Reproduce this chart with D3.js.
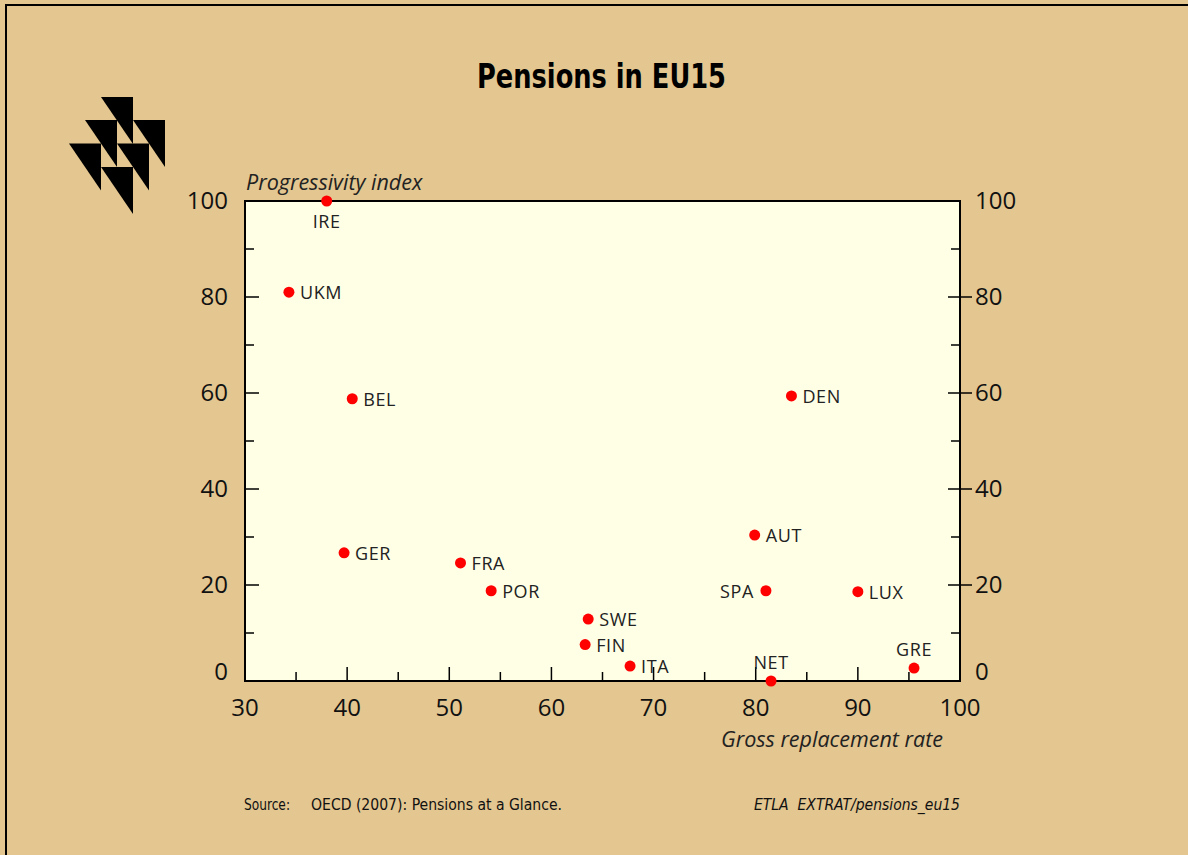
<!DOCTYPE html>
<html>
<head>
<meta charset="utf-8">
<script src="https://cdn.jsdelivr.net/npm/d3@7"></script>
<style>
  body { margin: 0; background: #e3c690; }
  svg { display: block; }
</style>
</head>
<body>
<script>
// data (OECD 2007, Pensions at a Glance)
const countries = ["IRE", "UKM", "BEL", "DEN", "GER", "AUT", "FRA", "POR", "SPA", "LUX", "SWE", "FIN", "ITA", "NET", "GRE"];
const replacementRate = [38.0, 34.3, 40.5, 83.5, 39.7, 79.9, 51.1, 54.1, 81.0, 90.0, 63.6, 63.3, 67.7, 81.5, 95.5];
const progressivity = [100, 81.0, 58.8, 59.4, 26.7, 30.4, 24.6, 18.8, 18.8, 18.6, 12.9, 7.6, 3.1, 0, 2.7];
const xTicks = [30, 40, 50, 60, 70, 80, 90, 100];
const yTicks = [0, 20, 40, 60, 80, 100];

const W = 1188, H = 855;
const margin = {left: 245, right: 960, top: 201, bottom: 681};

const svg = d3.select("body").append("svg")
  .attr("width", W)
  .attr("height", H);

// frame (only top and left edge are visible)
svg.append("rect").attr("x", 0).attr("y", 0).attr("width", W).attr("height", H).attr("fill", "#e3c690");
svg.append("path").attr("d", `M6,${H} V5 H${W}`).attr("fill", "none").attr("stroke", "#000").attr("stroke-width", 2);

// logo
const tri = [[101, 97], [85, 120], [133, 120], [69, 143.5], [117, 143.5], [101, 167]];
svg.append("g").selectAll("path")
  .data(tri)
  .enter()
  .append("path")
  .attr("d", d => `M${d[0]},${d[1]} h32 v47 Z`)
  .attr("fill", "#000");

svg.append("text")
  .attr("x", 477).attr("y", 88)
  .attr("textLength", 249).attr("lengthAdjust", "spacingAndGlyphs")
  .style("font-family", "'Liberation Sans Narrow', 'DejaVu Sans Condensed', sans-serif")
  .style("font-weight", "bold")
  .style("font-size", "33px")
  .text("Pensions in EU15");

const x = d3.scaleLinear().domain([30, 100]).range([margin.left, margin.right]);
const y = d3.scaleLinear().domain([0, 100]).range([margin.bottom, margin.top]);

svg.append("rect")
  .attr("x", x(30)).attr("y", y(100))
  .attr("width", x(100) - x(30)).attr("height", y(0) - y(100))
  .attr("fill", "#ffffe6")
  .attr("stroke", "#000")
  .attr("stroke-width", 2);

const tickFont = "'Open Sans', sans-serif";

// bottom axis: ticks every 5, pointing in
const xAxis = svg.append("g").attr("transform", `translate(0,${y(0)})`);
xAxis.selectAll("line")
  .data(d3.range(35, 100, 5))
  .enter().append("line")
  .attr("x1", d => x(d)).attr("x2", d => x(d))
  .attr("y1", 0).attr("y2", d => d % 10 === 0 ? -14 : -9)
  .attr("stroke", "#000").attr("stroke-width", 1.5);
xAxis.selectAll("text")
  .data(xTicks)
  .enter().append("text")
  .attr("x", d => x(d)).attr("y", 35)
  .attr("text-anchor", "middle")
  .style("font-family", tickFont).style("font-size", "24px").attr("fill", "#111")
  .text(d => d);

// left and right axes
const yMinor = d3.range(10, 100, 20);
const leftAxis = svg.append("g").attr("transform", `translate(${x(30)},0)`);
leftAxis.selectAll("line.major")
  .data(yTicks.slice(1, -1))
  .enter().append("line")
  .attr("x1", 0).attr("x2", 14)
  .attr("y1", d => y(d)).attr("y2", d => y(d))
  .attr("stroke", "#000").attr("stroke-width", 1.5);
leftAxis.selectAll("line.minor")
  .data(yMinor)
  .enter().append("line")
  .attr("x1", 0).attr("x2", 9)
  .attr("y1", d => y(d)).attr("y2", d => y(d))
  .attr("stroke", "#000").attr("stroke-width", 1.5);
leftAxis.selectAll("text")
  .data(yTicks)
  .enter().append("text")
  .attr("x", -17)
  .attr("y", d => y(d) + (d === 0 ? -9 : 0))
  .attr("dy", "0.35em")
  .attr("text-anchor", "end")
  .style("font-family", tickFont).style("font-size", "24px").attr("fill", "#111")
  .text(d => d);

const rightAxis = svg.append("g").attr("transform", `translate(${x(100)},0)`);
rightAxis.selectAll("line.major")
  .data(yTicks.slice(1, -1))
  .enter().append("line")
  .attr("x1", -12).attr("x2", 12)
  .attr("y1", d => y(d)).attr("y2", d => y(d))
  .attr("stroke", "#000").attr("stroke-width", 1.5);
rightAxis.selectAll("line.minor")
  .data(yMinor)
  .enter().append("line")
  .attr("x1", 0).attr("x2", -9)
  .attr("y1", d => y(d)).attr("y2", d => y(d))
  .attr("stroke", "#000").attr("stroke-width", 1.5);
rightAxis.selectAll("text")
  .data(yTicks)
  .enter().append("text")
  .attr("x", 15)
  .attr("y", d => y(d) + (d === 0 ? -9 : 0))
  .attr("dy", "0.35em")
  .attr("text-anchor", "start")
  .style("font-family", tickFont).style("font-size", "24px").attr("fill", "#111")
  .text(d => d);

// axis titles
svg.append("text")
  .attr("x", 246).attr("y", 190)
  .style("font-family", tickFont).style("font-style", "italic").style("font-size", "21.5px").attr("fill", "#222")
  .text("Progressivity index");
svg.append("text")
  .attr("x", 943).attr("y", 747)
  .attr("text-anchor", "end")
  .style("font-family", tickFont).style("font-style", "italic").style("font-size", "21.5px").attr("fill", "#222")
  .text("Gross replacement rate");

// points
const pts = countries.map((c, i) => ({name: c, gx: replacementRate[i], py: progressivity[i]}));
svg.append("g").selectAll("circle")
  .data(pts)
  .enter().append("circle")
  .attr("cx", d => x(d.gx)).attr("cy", d => y(d.py))
  .attr("r", 5.5)
  .attr("fill", "#ff0000");

// label placement
const placement = {IRE: "below", SPA: "left", NET: "above", GRE: "above"};
svg.append("g").selectAll("text")
  .data(pts)
  .enter().append("text")
  .attr("x", d => {
    const p = placement[d.name];
    if (p === "left") return x(d.gx) - 12;
    if (p === "below" || p === "above") return x(d.gx);
    return x(d.gx) + 11;
  })
  .attr("y", d => {
    const p = placement[d.name];
    if (p === "below") return y(d.py) + 27;
    if (p === "above") return y(d.py) - 12;
    return y(d.py) + 7;
  })
  .attr("text-anchor", d => {
    const p = placement[d.name];
    if (p === "left") return "end";
    if (p === "below" || p === "above") return "middle";
    return "start";
  })
  .style("font-family", tickFont).style("font-size", "18px").style("letter-spacing", "0.6px").attr("fill", "#222")
  .text(d => d.name);

// footer
const footFont = "'Liberation Sans Narrow', 'DejaVu Sans Condensed', sans-serif";
svg.append("text")
  .attr("x", 244).attr("y", 810)
  .attr("textLength", 46).attr("lengthAdjust", "spacingAndGlyphs")
  .style("font-family", footFont).style("font-size", "16px").attr("fill", "#111")
  .text("Source:");
svg.append("text")
  .attr("x", 311).attr("y", 810)
  .attr("textLength", 251).attr("lengthAdjust", "spacingAndGlyphs")
  .style("font-family", footFont).style("font-size", "16px").attr("fill", "#111")
  .text("OECD (2007): Pensions at a Glance.");
svg.append("text")
  .attr("x", 754).attr("y", 810)
  .attr("textLength", 206).attr("lengthAdjust", "spacingAndGlyphs")
  .style("white-space", "pre")
  .style("font-family", footFont).style("font-style", "italic").style("font-size", "16px").attr("fill", "#111")
  .text("ETLA  EXTRAT/pensions_eu15");
</script>
</body>
</html>
